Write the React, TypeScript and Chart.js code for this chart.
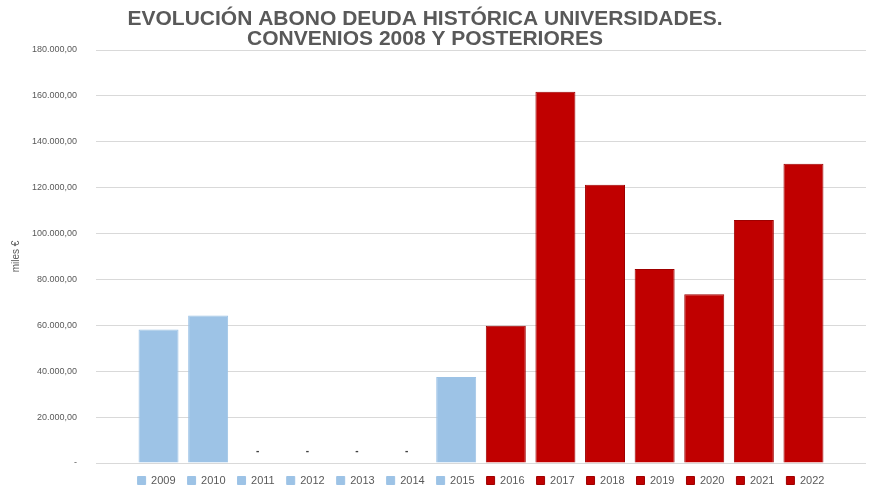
import React, { useEffect, useRef } from 'react';
import { Chart, registerables } from 'chart.js';

Chart.register(...registerables);

const TITLE_LINES = ['EVOLUCIÓN ABONO DEUDA HISTÓRICA UNIVERSIDADES.', 'CONVENIOS 2008 Y POSTERIORES'];
const Y_AXIS_TITLE = 'miles €';
const YEARS = ['2009', '2010', '2011', '2012', '2013', '2014', '2015', '2016', '2017', '2018', '2019', '2020', '2021', '2022'];
const VALUES = [58200, 64300, 0, 0, 0, 0, 37500, 59800, 161800, 121300, 84500, 73600, 105900, 130400];
const BLUE = '#9DC3E6';
const RED = '#C00000';
const COLORS = [BLUE, BLUE, BLUE, BLUE, BLUE, BLUE, BLUE, RED, RED, RED, RED, RED, RED, RED];
const BORDERS = ['#9DC3E6', '#9DC3E6', '#9DC3E6', '#9DC3E6', '#9DC3E6', '#9DC3E6', '#9DC3E6', '#9E0000', '#9E0000', '#9E0000', '#9E0000', '#9E0000', '#9E0000', '#9E0000'];
const Y_MIN = 0;
const Y_MAX = 180000;
const Y_STEP = 20000;

const FONT = '"Liberation Sans", Arial, sans-serif';
const GREY = '#595959';

function fmt(v: number): string {
  if (v === 0) return '-';
  const int = Math.round(v).toString();
  const withDots = int.replace(/\B(?=(\d{3})+(?!\d))/g, '.');
  return withDots + ',00';
}

const titlePlugin = {
  id: 'customTitle',
  afterDraw(chart: any) {
    const ctx = chart.ctx;
    ctx.save();
    ctx.font = `bold 21px ${FONT}`;
    ctx.fillStyle = GREY;
    ctx.textAlign = 'center';
    ctx.textBaseline = 'alphabetic';
    ctx.fillText(TITLE_LINES[0], 425, 25);
    ctx.fillText(TITLE_LINES[1], 425, 45);
    ctx.restore();
  },
};

const zeroLabelPlugin = {
  id: 'zeroLabels',
  afterDatasetsDraw(chart: any) {
    const ctx = chart.ctx;
    ctx.save();
    ctx.font = `bold 10px ${FONT}`;
    ctx.fillStyle = '#404040';
    ctx.textAlign = 'center';
    ctx.textBaseline = 'middle';
    chart.data.datasets.forEach((ds: any, i: number) => {
      const meta = chart.getDatasetMeta(i);
      const el = meta.data[0];
      if (el && ds.data[0] === 0) {
        ctx.fillText('-', el.x, el.y - 12);
      }
    });
    ctx.restore();
  },
};

export default function App() {
  const ref = useRef<HTMLCanvasElement | null>(null);

  useEffect(() => {
    if (!ref.current) return;
    const datasets = YEARS.map((y, i) => ({
      label: y,
      data: [VALUES[i]],
      backgroundColor: COLORS[i],
      borderColor: BORDERS[i],
      borderWidth: 1,
      categoryPercentage: 0.902,
      barPercentage: 0.806,
    }));
    const chart = new Chart(ref.current, {
      type: 'bar',
      data: { labels: [''], datasets },
      plugins: [titlePlugin, zeroLabelPlugin],
      options: {
        animation: false,
        responsive: false,
        maintainAspectRatio: false,
        layout: { padding: { top: 50, right: 14, bottom: -1, left: 0 } },
        plugins: {
          title: { display: false },
          tooltip: { enabled: false },
          legend: {
            display: true,
            position: 'bottom',
            fullSize: false,
            labels: {
              boxWidth: 8,
              boxHeight: 8,
              padding: 12,
              color: GREY,
              font: { family: FONT, size: 11 },
            },
          },
        },
        scales: {
          x: {
            display: false,
          },
          y: {
            min: Y_MIN,
            max: Y_MAX,
            afterFit: (s: any) => {
              s.width = 96;
            },
            ticks: {
              stepSize: Y_STEP,
              padding: 19,
              color: GREY,
              font: { family: FONT, size: 9 },
              callback: (v: any) => fmt(Number(v)),
            },
            grid: { color: '#D9D9D9', lineWidth: 1, drawTicks: false },
            border: { display: false },
            title: {
              display: true,
              text: Y_AXIS_TITLE,
              color: GREY,
              font: { family: FONT, size: 10 },
              padding: { top: 10, bottom: 0 },
            },
          },
        },
      },
    });
    return () => chart.destroy();
  }, []);

  return (
    <div style={{ position: 'fixed', left: 0, top: 0, width: 880, height: 495, background: '#fff' }}>
      <canvas ref={ref} width={880} height={495} style={{ width: 880, height: 495 }} />
    </div>
  );
}
